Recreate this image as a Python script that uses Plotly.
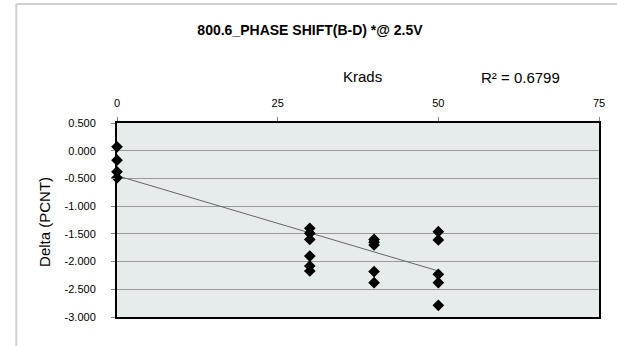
import plotly.graph_objects as go

# Data
krads = [0, 0, 0, 0,
         30, 30, 30, 30, 30, 30,
         40, 40, 40, 40, 40,
         50, 50, 50, 50, 50]
delta = [0.07, -0.17, -0.38, -0.49,
         -1.40, -1.49, -1.60, -1.90, -2.08, -2.17,
         -1.60, -1.65, -1.70, -2.18, -2.38,
         -1.46, -1.61, -2.23, -2.38, -2.79]
trend_x = [0, 50]
trend_y = [-0.45, -2.17]
x_ticks = [0, 25, 50, 75]
y_ticks = [0.5, 0.0, -0.5, -1.0, -1.5, -2.0, -2.5, -3.0]
y_tick_labels = ["0.500", "0.000", "-0.500", "-1.000", "-1.500", "-2.000", "-2.500", "-3.000"]
title_text = "800.6_PHASE SHIFT(B-D) *@ 2.5V"
r2_text = "R² = 0.6799"

FONT = "Liberation Sans, Arial, sans-serif"
L, R, T, B = 117, 12, 123, 29
PW, PH = 617 - L - R, 346 - T - B

fig = go.Figure()
fig.add_trace(go.Scatter(x=trend_x, y=trend_y, mode="lines",
                         line=dict(color="#666666", width=1), hoverinfo="skip",
                         showlegend=False))
fig.add_trace(go.Scatter(x=krads, y=delta, mode="markers",
                         marker=dict(symbol="diamond", size=9, color="black"),
                         showlegend=False, cliponaxis=False))

fig.update_layout(
    width=617, height=346,
    margin=dict(l=L, r=R, t=T, b=B),
    paper_bgcolor="white",
    plot_bgcolor="#E6EBEB",
    font=dict(family=FONT, color="#000000", size=11),
    title=dict(text="<b>" + title_text + "</b>", x=310 / 617, xanchor="center",
               y=1 - 30 / 346, yanchor="middle", font=dict(size=14, family=FONT)),
    xaxis=dict(side="top", range=[0, 75], tickvals=x_ticks,
               showgrid=False, zeroline=False,
               ticks="outside", ticklen=4, tickcolor="#888888",
               ticklabelstandoff=6,
               showline=True, linecolor="black", linewidth=2, mirror=True,
               tickfont=dict(size=11, family=FONT), fixedrange=True),
    yaxis=dict(range=[-3.0, 0.5], tickvals=y_ticks, ticktext=y_tick_labels,
               showgrid=True, gridcolor="#999999", gridwidth=1, zeroline=False,
               ticks="outside", ticklen=4, tickcolor="#888888",
               ticklabelstandoff=13,
               showline=True, linecolor="black", linewidth=2, mirror=True,
               tickfont=dict(size=11, family=FONT), fixedrange=True),
    annotations=[
        dict(text="Krads", xref="paper", yref="paper", x=(366 - L) / PW,
             y=1 + (T - 76) / PH, showarrow=False, font=dict(size=15, family=FONT),
             xanchor="center", yanchor="middle"),
        dict(text=r2_text, xref="paper", yref="paper", x=(526 - L) / PW,
             y=1 + (T - 77) / PH, showarrow=False, font=dict(size=15, family=FONT),
             xanchor="center", yanchor="middle"),
        dict(text="Delta (PCNT)", xref="paper", yref="paper", x=(43 - L) / PW,
             y=1 - (222 - T) / PH, showarrow=False, textangle=-90,
             font=dict(size=15, family=FONT), xanchor="center", yanchor="middle"),
    ],
    shapes=[
        dict(type="line", xref="paper", yref="paper",
             x0=(15 - L) / PW, x1=1.2, y0=1 + (T - 4) / PH, y1=1 + (T - 4) / PH,
             line=dict(color="#D0D0D0", width=2)),
        dict(type="line", xref="paper", yref="paper",
             x0=(15 - L) / PW, x1=(15 - L) / PW, y0=1 + (T - 4) / PH, y1=-0.3,
             line=dict(color="#D0D0D0", width=2)),
    ],
)

fig.write_html("out.html", config={"displayModeBar": False},
               post_script="document.body.style.margin='0';")
